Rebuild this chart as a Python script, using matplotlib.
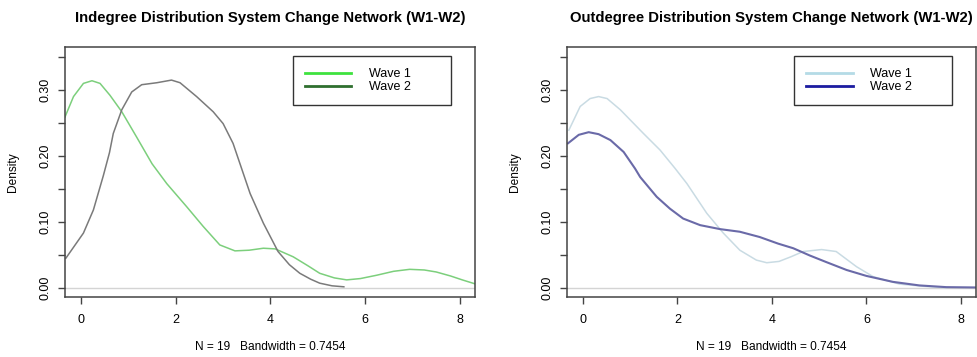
import matplotlib
matplotlib.use("Agg")
import matplotlib.pyplot as plt

plt.rcParams["font.family"] = ["Liberation Sans", "DejaVu Sans"]

# ── values ────────────────────────────────────────────────────────────────────
IN_W1_X = [-0.34, -0.16, 0.05, 0.23, 0.40, 0.61, 0.86, 1.17, 1.50, 1.81, 2.23,
           2.58, 2.93, 3.25, 3.55, 3.85, 4.10, 4.48, 4.80, 5.04, 5.35, 5.61,
           5.90, 6.24, 6.60, 6.94, 7.25, 7.50, 7.80, 8.05, 8.32]
IN_W1_Y = [0.259, 0.290, 0.310, 0.314, 0.310, 0.292, 0.267, 0.229, 0.188, 0.158,
           0.123, 0.093, 0.065, 0.056, 0.057, 0.060, 0.059, 0.047, 0.033, 0.022,
           0.015, 0.012, 0.014, 0.019, 0.025, 0.028, 0.027, 0.024, 0.018, 0.012,
           0.006]

IN_W2_X = [-0.32, 0.05, 0.26, 0.47, 0.60, 0.68, 0.86, 1.07, 1.28, 1.60, 1.91,
           2.09, 2.44, 2.79, 3.00, 3.21, 3.39, 3.57, 3.85, 4.16, 4.40, 4.62,
           4.85, 5.04, 5.30, 5.55]
IN_W2_Y = [0.045, 0.083, 0.118, 0.170, 0.205, 0.234, 0.270, 0.297, 0.308, 0.311,
           0.315, 0.311, 0.290, 0.267, 0.249, 0.219, 0.181, 0.143, 0.098, 0.055,
           0.035, 0.022, 0.013, 0.007, 0.003, 0.0015]

OUT_W1_X = [-0.30, -0.06, 0.15, 0.33, 0.51, 0.79, 1.28, 1.63, 1.95, 2.20, 2.62,
            2.97, 3.32, 3.67, 3.89, 4.15, 4.40, 4.66, 5.05, 5.36, 5.79, 6.14,
            6.70, 7.26, 7.70]
OUT_W1_Y = [0.239, 0.275, 0.287, 0.290, 0.287, 0.270, 0.234, 0.209, 0.181, 0.158,
            0.113, 0.083, 0.057, 0.042, 0.038, 0.040, 0.047, 0.055, 0.058, 0.055,
            0.032, 0.017, 0.0056, 0.002, 0.0]

OUT_W2_X = [-0.32, -0.09, 0.12, 0.33, 0.58, 0.86, 1.10, 1.21, 1.56, 1.84, 2.12,
            2.48, 2.90, 3.32, 3.74, 4.13, 4.45, 4.80, 5.15, 5.58, 6.00, 6.56,
            7.12, 7.69, 8.32]
OUT_W2_Y = [0.219, 0.232, 0.236, 0.233, 0.224, 0.206, 0.181, 0.168, 0.138, 0.120,
            0.105, 0.095, 0.089, 0.085, 0.077, 0.067, 0.060, 0.049, 0.039, 0.027,
            0.018, 0.009, 0.0036, 0.001, 0.0005]

X_TICKS = [0, 2, 4, 6, 8]
Y_TICKS = [0.00, 0.05, 0.10, 0.15, 0.20, 0.25, 0.30, 0.35]
Y_LABELS = ["0.00", "", "0.10", "", "0.20", "", "0.30", ""]
XLABEL = "N = 19   Bandwidth = 0.7454"

panels = [
    dict(title="Indegree Distribution System Change Network (W1-W2)",
         curves=[(IN_W1_X, IN_W1_Y, "#7ccf7c", 1.1), (IN_W2_X, IN_W2_Y, "#7a7a7a", 1.1)],
         legend=["#3ee23e", "#2f6f2f"], rect=[0.0665, 0.168, 0.4197, 0.700]),
    dict(title="Outdegree Distribution System Change Network (W1-W2)",
         curves=[(OUT_W1_X, OUT_W1_Y, "#c9dbe3", 1.1), (OUT_W2_X, OUT_W2_Y, "#6a6aa8", 1.5)],
         legend=["#b4dbe6", "#1c1ca0"], rect=[0.5803, 0.168, 0.4187, 0.700]),
]

fig = plt.figure(figsize=(9.77, 3.57), dpi=100)
fig.patch.set_facecolor("white")

for p in panels:
    ax = fig.add_axes(p["rect"])
    ax.axhline(0, color="#d4d4d4", linewidth=1.0, zorder=1)
    for xs, ys, col, lw in p["curves"]:
        ax.plot(xs, ys, color=col, linewidth=lw, zorder=2,
                solid_joinstyle="round")

    ax.set_xlim(-0.34, 8.32)
    ax.set_ylim(-0.014, 0.365)
    ax.set_xticks(X_TICKS)
    ax.set_xticklabels([str(t) for t in X_TICKS])
    ax.set_yticks(Y_TICKS)
    ax.set_yticklabels(Y_LABELS, rotation=90, va="center")
    ax.tick_params(direction="out", length=5, width=1, color="#444444",
                   labelsize=9)
    ax.tick_params(axis="x", pad=7)
    ax.tick_params(axis="y", pad=5)
    for s in ax.spines.values():
        s.set_edgecolor("#444444")
        s.set_linewidth(1.1)

    ax.set_title(p["title"], fontsize=10.7, fontweight="bold", pad=18)
    ax.set_xlabel(XLABEL, fontsize=8.6, labelpad=11)
    ax.set_ylabel("Density", fontsize=8.6)
    ax.yaxis.set_label_coords(-0.112, 0.5)

    h1, = ax.plot([], [], color=p["legend"][0], linewidth=2)
    h2, = ax.plot([], [], color=p["legend"][1], linewidth=2)
    leg = ax.legend([h1, h2], ["Wave 1", "Wave 2"], loc="upper left",
                    bbox_to_anchor=(0.556, 0.5, 0.385, 0.464), mode="expand",
                    borderaxespad=0, fontsize=9, handlelength=3.7,
                    handletextpad=1.4, borderpad=0.95, labelspacing=0.12,
                    fancybox=False, framealpha=1, edgecolor="#333333")
    leg.get_frame().set_linewidth(1.0)

fig.savefig("out.png", dpi=100, facecolor="white")
